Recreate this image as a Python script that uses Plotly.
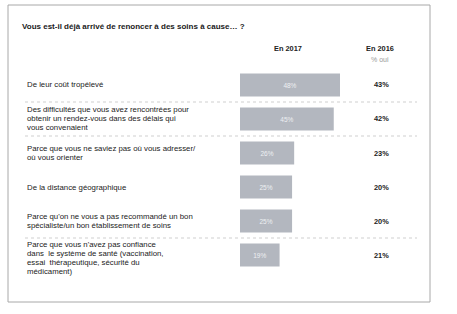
import plotly.graph_objects as go

W, H = 457, 314
labels = [
    "De leur coût tropélevé",
    "Des difficultés que vous avez rencontrées pour<br>obtenir un rendez-vous dans des délais qui<br>vous convenaient",
    "Parce que vous ne saviez pas où vous adresser/<br>où vous orienter",
    "De la distance géographique",
    "Parce qu'on ne vous a pas recommandé un bon<br>spécialiste/un bon établissement de soins",
    "Parce que vous n'avez pas confiance<br>dans  le système de santé (vaccination,<br>essai  thérapeutique, sécurité du<br>médicament)",
]
v2017 = [48, 45, 26, 25, 25, 19]
v2016 = [43, 42, 23, 20, 20, 21]
title = "Vous est-il déjà arrivé de renoncer à des soins à cause… ?"
head2017 = "En 2017"
head2016 = "En 2016"
sub2016 = "% oui"

idx = list(range(len(labels)))
FONT = "Liberation Sans, Arial, sans-serif"
LINE_H = 9.0

def px(x):
    return x / W

def py(y):
    return 1 - y / H

fig = go.Figure()
fig.add_trace(go.Bar(
    x=v2017, y=idx, orientation="h",
    marker=dict(color="#b3b7bf", line=dict(width=0)),
    text=[f"{v}%" for v in v2017], textposition="inside", insidetextanchor="middle",
    textfont=dict(color="#eef0f3", size=6.5, family=FONT),
    width=0.68, hoverinfo="skip",
))

ann = []
ann.append(dict(text=f"<b>{title}</b>", x=px(20), y=py(27), xref="paper", yref="paper",
                xanchor="left", yanchor="middle", showarrow=False,
                font=dict(size=8.0, color="#1a1a1a", family=FONT)))
ann.append(dict(text=f"<b>{head2017}</b>", x=px(288), y=py(49), xref="paper", yref="paper",
                xanchor="center", yanchor="middle", showarrow=False,
                font=dict(size=7.4, color="#222", family=FONT)))
ann.append(dict(text=f"<b>{head2016}</b>", x=px(380), y=py(49), xref="paper", yref="paper",
                xanchor="center", yanchor="middle", showarrow=False,
                font=dict(size=7.4, color="#222", family=FONT)))
ann.append(dict(text=sub2016, x=px(380), y=py(60), xref="paper", yref="paper",
                xanchor="center", yanchor="middle", showarrow=False,
                font=dict(size=7, color="#999", family=FONT)))
for i, (lab, v) in enumerate(zip(labels, v2016)):
    lines = lab.split("<br>")
    n = len(lines)
    extra = 3 if n >= 4 else 0
    for k, ln in enumerate(lines):
        off = (k - (n - 1) / 2) * LINE_H + extra
        ann.append(dict(text=ln, x=px(25), y=i, xref="paper", yref="y", yshift=-off,
                        xanchor="left", yanchor="middle", align="left", showarrow=False,
                        font=dict(size=7.8, color="#222", family=FONT)))
    ann.append(dict(text=f"<b>{v}%</b>", x=px(381), y=i, xref="paper", yref="y",
                    xanchor="center", yanchor="middle", showarrow=False,
                    font=dict(size=7.4, color="#222", family=FONT)))

shapes = [dict(type="rect", xref="paper", yref="paper", x0=px(8), x1=px(430), y0=py(302), y1=py(5),
               line=dict(color="#a8a8a8", width=1))]
for yy in [0.5, 1.5, 4.5]:
    shapes.append(dict(type="line", xref="paper", yref="y", x0=px(25), x1=px(417), y0=yy, y1=yy,
                       line=dict(color="#cfcfcf", width=1, dash="dot")))

fig.update_layout(
    width=W, height=H, margin=dict(l=0, r=0, t=0, b=0),
    paper_bgcolor="white", plot_bgcolor="rgba(0,0,0,0)",
    showlegend=False, annotations=ann, shapes=shapes,
    xaxis=dict(domain=[px(240), px(440)], range=[0, 96], visible=False, fixedrange=True),
    yaxis=dict(domain=[py(272), py(68)], range=[5.5, -0.5], visible=False, fixedrange=True),
)
fig.write_html("out.html")
